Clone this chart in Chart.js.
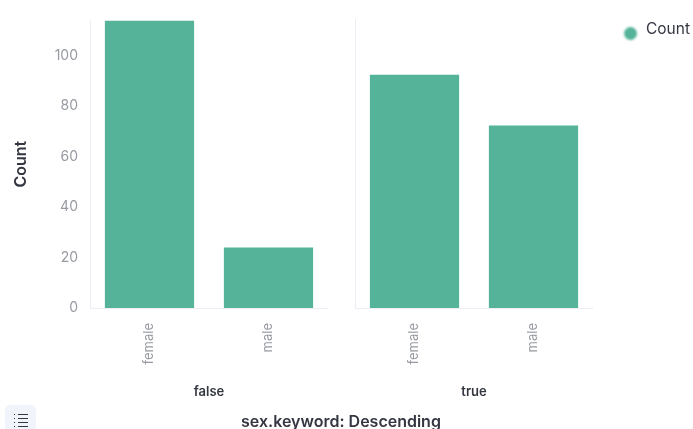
<!DOCTYPE html>
<html>
<head>
<meta charset="utf-8">
<script src="https://cdn.jsdelivr.net/npm/chart.js@4"></script>
<style>
  html, body { margin: 0; padding: 0; background: #fff; overflow: hidden; }
  body { width: 693px; height: 429px; position: relative; font-family: Inter, "Open Sans", sans-serif; }
  #page { position: absolute; left: 0; top: 0; width: 693px; height: 429px; filter: blur(0.6px); }
  .panel { position: absolute; top: 0; height: 400px; }
  #panelFalse { left: 0; width: 328px; }
  #panelTrue { left: 335px; width: 258px; }
  #legend { position: absolute; left: 623px; top: 20px; font-size: 15.5px; color: #343741; line-height: 18px; }
  #legend i { display: inline-block; width: 13px; height: 13px; border-radius: 50%; background: #54b399; position: absolute; left: 1px; top: 7px; filter: blur(1px); }
  #legend span { margin-left: 23px; }
  #sortTitle { position: absolute; left: 141px; width: 400px; top: 412px; text-align: center; font-size: 16px; font-weight: 600; color: #343741; line-height: 18px; }
  #listBtn { position: absolute; left: 5px; top: 405px; width: 31px; height: 30px; background: #f1f4fa; border-radius: 5px; }
  #listBtn svg { position: absolute; left: 8px; top: 7px; }
</style>
</head>
<body>
<div id="page">
  <div class="panel" id="panelFalse"><canvas id="chartFalse"></canvas></div>
  <div class="panel" id="panelTrue"><canvas id="chartTrue"></canvas></div>
  <div id="legend"><i></i><span>Count</span></div>
  <div id="sortTitle">sex.keyword: Descending</div>
  <div id="listBtn">
    <svg width="16" height="16" viewBox="0 0 16 16" fill="none" stroke="#343741" stroke-width="1">
      <path d="M5 2.5h10M5 6.5h10M5 10.5h10M5 14.5h10"/>
      <path d="M1 2.5h2M1 6.5h2M1 10.5h2M1 14.5h2" stroke-dasharray="1 1"/>
    </svg>
  </div>
</div>
<script>
const categories = ['female', 'male'];
const falseCounts = [114, 24];
const trueCounts = [92, 72];
const yMax = 114;
const yStep = 20;

const barColor = '#54b399';
const axisLine = '#eceef5';
const tickColor = '#989aa2';
const titleColor = '#343741';

function makePanel(canvasId, label, values, showY) {
  return new Chart(document.getElementById(canvasId), {
    type: 'bar',
    data: {
      labels: categories,
      datasets: [{
        label: 'Count',
        data: values,
        backgroundColor: barColor,
        barPercentage: 0.75,
        categoryPercentage: 1
      }]
    },
    options: {
      responsive: true,
      maintainAspectRatio: false,
      animation: false,
      layout: { padding: { top: 19, bottom: 0, left: 0, right: 0 } },
      plugins: { legend: { display: false }, tooltip: { enabled: false } },
      scales: {
        x: {
          grid: { display: false },
          border: { color: axisLine },
          afterFit: function (axis) { axis.height = 92; },
          ticks: {
            color: tickColor,
            font: { family: 'Inter', size: 13 },
            minRotation: 90,
            maxRotation: 90,
            padding: 7
          },
          title: {
            display: true,
            text: label,
            color: titleColor,
            font: { family: 'Inter', size: 13, weight: '600' },
            padding: { top: 0, bottom: 0 }
          }
        },
        y: {
          min: 0,
          max: yMax,
          grid: { display: false, drawTicks: false },
          border: { color: axisLine },
          afterFit: function (axis) { axis.width = showY ? 90 : 20; },
          ticks: {
            display: showY,
            stepSize: yStep,
            includeBounds: false,
            color: tickColor,
            font: { family: 'Inter', size: 14 },
            padding: 12
          },
          title: {
            display: showY,
            text: 'Count',
            color: titleColor,
            font: { family: 'Inter', size: 16, weight: '600' },
            padding: { top: 12, bottom: 0 }
          }
        }
      }
    }
  });
}

makePanel('chartFalse', 'false', falseCounts, true);
makePanel('chartTrue', 'true', trueCounts, false);
</script>
</body>
</html>
